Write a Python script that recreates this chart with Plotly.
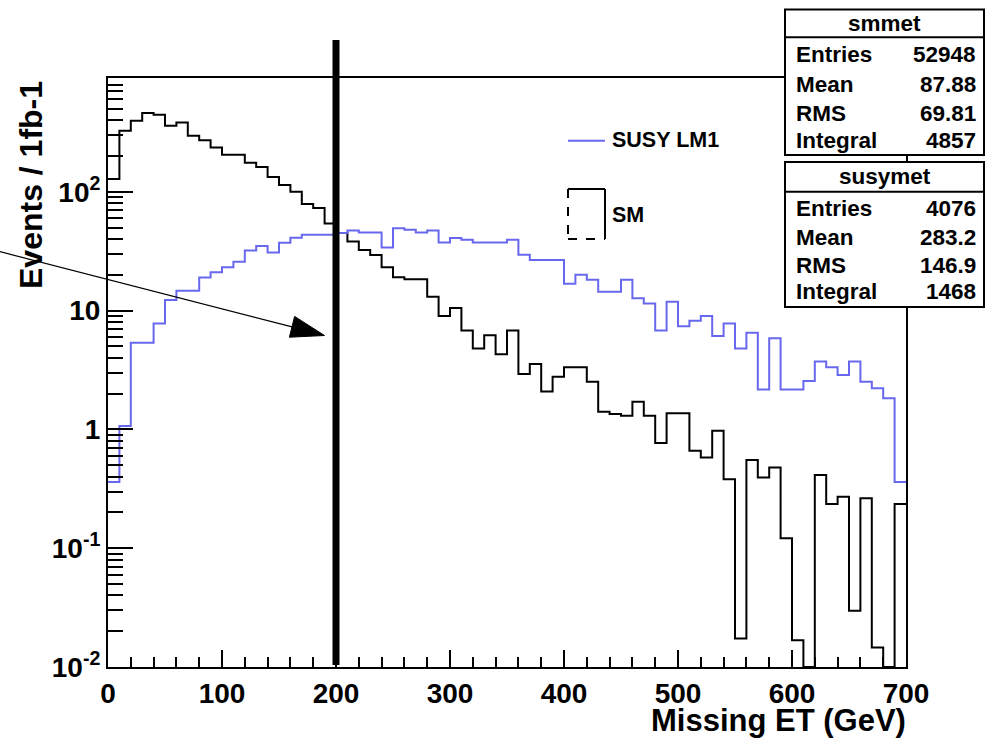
import numpy as np
import plotly.graph_objects as go

# ---------------- data ----------------
bin_width = 10
x_min, x_max = 0, 700

# SM (black) events per 10 GeV bin, 0..700 GeV
sm_met = [128, 326, 397, 460, 445, 360, 383, 296, 271, 236,
          205, 205, 176, 162, 133, 114, 100, 79, 73, 54,
          45, 38.1, 32.4, 29.4, 23.2, 19.1, 18.4, 18.4, 13.1, 9.0,
          10.5, 6.8, 4.8, 6.2, 4.3, 6.8, 2.93, 3.56, 2.08, 2.78,
          3.34, 3.34, 2.52, 1.41, 1.35, 1.30, 1.71, 1.30, 0.77, 1.37,
          1.37, 0.66, 0.58, 0.975, 0.38, 0.0174, 0.552, 0.394, 0.479, 0.121,
          0.0168, 0, 0.413, 0.235, 0.271, 0.0297, 0.263, 0.0146, 0, 0.235]

# SUSY LM1 (blue) events per 10 GeV bin
susy_met = [0.36, 1.07, 5.37, 5.37, 7.8, 12.3, 14.7, 14.7, 19, 21,
            23.2, 25.8, 32, 35, 30.8, 37.3, 41, 43.5, 43.5, 43.5,
            45, 47.2, 45.4, 45.4, 34, 49.4, 47.9, 45.4, 47.2, 37.4,
            40.8, 39.5, 37.4, 37.4, 37.4, 39.5, 29.5, 26.7, 26.7, 26.7,
            16.8, 20, 18.2, 14.4, 14.4, 18.2, 12.7, 11.5, 6.8, 11.9,
            7.4, 8.2, 9.0, 6.1, 7.8, 4.8, 6.5, 2.17, 5.85, 2.17,
            2.17, 2.56, 3.72, 3.33, 2.87, 3.72, 2.52, 2.22, 1.83, 0.36]

cut_value = 200  # GeV, vertical cut line

stat_labels = ["Entries", "Mean", "RMS", "Integral"]
sm_title = "smmet"
sm_stats = ["52948", "87.88", "69.81", "4857"]
susy_title = "susymet"
susy_stats = ["4076", "283.2", "146.9", "1468"]

x_tickvals = [0, 100, 200, 300, 400, 500, 600, 700]
y_tickvals = [0.01, 0.1, 1, 10, 100]
y_ticktext = ["10<sup>-2</sup>", "10<sup>-1</sup>", "1", "10", "10<sup>2</sup>"]
y_min_exp, y_max_exp = -2, 2.958

# ---------------- layout geometry ----------------
W, H = 987, 741
L, R, T, B = 108, 81, 78, 74
PW, PH = W - L - R, H - T - B


def X(px):
    return (px - L) / PW


def Y(py):
    return (H - B - py) / PH


FONT = "Liberation Sans, Arial, Helvetica, sans-serif"
BLUE = "#6868EE"

edges = np.arange(x_min, x_max + bin_width, bin_width)
floor = 10 ** y_min_exp


def step_y(vals):
    v = np.maximum(np.asarray(vals, dtype=float), floor)
    return np.append(v, v[-1])


fig = go.Figure()
fig.add_trace(go.Scatter(x=edges, y=step_y(sm_met), mode="lines", line_shape="hv",
                         line=dict(color="black", width=2), showlegend=False, hoverinfo="skip"))
fig.add_trace(go.Scatter(x=edges, y=step_y(susy_met), mode="lines", line_shape="hv",
                         line=dict(color=BLUE, width=2), showlegend=False, hoverinfo="skip"))

shapes = []
annotations = []

# thick cut line
shapes.append(dict(type="line", xref="x", yref="paper", x0=cut_value, x1=cut_value,
                   y0=Y(665), y1=Y(40), line=dict(color="black", width=7), layer="above"))

# arrow
shapes.append(dict(type="line", xref="paper", yref="paper", x0=X(0), y0=Y(251.7),
                   x1=X(294), y1=Y(327.3), line=dict(color="black", width=1.2), layer="above"))
tri = "M {} {} L {} {} L {} {} Z".format(X(324.5), Y(335.5), X(294.6), Y(316.4), X(289.4), Y(337.2))
shapes.append(dict(type="path", xref="paper", yref="paper", path=tri,
                   fillcolor="black", line=dict(color="black", width=1), layer="above"))

# legend
shapes.append(dict(type="line", xref="paper", yref="paper", x0=X(568), x1=X(605),
                   y0=Y(140.7), y1=Y(140.7), line=dict(color=BLUE, width=2), layer="above"))
annotations.append(dict(text="<b>SUSY LM1</b>", xref="paper", yref="paper", x=X(610), y=Y(140),
                        xanchor="left", yanchor="middle", showarrow=False,
                        font=dict(family=FONT, size=21.5, color="black")))
bx0, bx1, by0, by1 = 568, 605, 189, 239
shapes.append(dict(type="line", xref="paper", yref="paper", x0=X(bx0), x1=X(bx1), y0=Y(by0), y1=Y(by0),
                   line=dict(color="black", width=2), layer="above"))
shapes.append(dict(type="line", xref="paper", yref="paper", x0=X(bx1), x1=X(bx1), y0=Y(by0), y1=Y(by1),
                   line=dict(color="black", width=2), layer="above"))
shapes.append(dict(type="line", xref="paper", yref="paper", x0=X(bx0), x1=X(bx0), y0=Y(by0), y1=Y(by1),
                   line=dict(color="black", width=2, dash="dash"), layer="above"))
shapes.append(dict(type="line", xref="paper", yref="paper", x0=X(bx0), x1=X(bx1), y0=Y(by1), y1=Y(by1),
                   line=dict(color="black", width=2, dash="dash"), layer="above"))
annotations.append(dict(text="<b>SM</b>", xref="paper", yref="paper", x=X(610), y=Y(215),
                        xanchor="left", yanchor="middle", showarrow=False,
                        font=dict(family=FONT, size=21.5, color="black")))


# stats boxes
def stat_box(top, bottom, sep, title_y, row_ys, title, values):
    shapes.append(dict(type="rect", xref="paper", yref="paper", x0=X(785), x1=X(984),
                       y0=Y(bottom), y1=Y(top), fillcolor="white",
                       line=dict(color="black", width=2), layer="above"))
    shapes.append(dict(type="line", xref="paper", yref="paper", x0=X(785), x1=X(984),
                       y0=Y(sep), y1=Y(sep), line=dict(color="black", width=2), layer="above"))
    annotations.append(dict(text="<b>" + title + "</b>", xref="paper", yref="paper", x=X(884.5), y=Y(title_y),
                            xanchor="center", yanchor="middle", showarrow=False,
                            font=dict(family=FONT, size=22.5, color="black")))
    for lab, val, yy in zip(stat_labels, values, row_ys):
        annotations.append(dict(text="<b>" + lab + "</b>", xref="paper", yref="paper", x=X(794), y=Y(yy),
                                xanchor="left", yanchor="middle", showarrow=False,
                                font=dict(family=FONT, size=22.5, color="black")))
        annotations.append(dict(text="<b>" + val + "</b>", xref="paper", yref="paper", x=X(978), y=Y(yy),
                                xanchor="right", yanchor="middle", showarrow=False,
                                font=dict(family=FONT, size=22.5, color="black")))


stat_box(9.5, 155, 37.3, 23.5, [55, 84.5, 113.3, 140], sm_title, sm_stats)
stat_box(162, 307, 191.7, 176.5, [208.5, 237, 265.5, 291], susy_title, susy_stats)

# axis titles
annotations.append(dict(text="<b>Missing ET (GeV)</b>", xref="paper", yref="paper", x=X(908), y=Y(720),
                        xanchor="right", yanchor="middle", showarrow=False,
                        font=dict(family=FONT, size=31, color="black")))
annotations.append(dict(text="<b>Events / 1fb-1</b>", xref="paper", yref="paper", x=X(31), y=Y(185),
                        xanchor="center", yanchor="middle", showarrow=False, textangle=-90,
                        font=dict(family=FONT, size=32, color="black")))

minor_y = [m * 10 ** e for e in range(-2, 3) for m in range(2, 10) if m * 10 ** e < 10 ** y_max_exp]

tick_font = dict(family=FONT, size=28, color="black", weight="bold")

fig.update_layout(
    width=W, height=H,
    margin=dict(l=L, r=R, t=T, b=B, autoexpand=False),
    paper_bgcolor="white", plot_bgcolor="white",
    showlegend=False,
    shapes=shapes, annotations=annotations,
    font=dict(family=FONT, color="black"),
    xaxis=dict(range=[x_min, x_max], tickvals=x_tickvals, ticks="inside", ticklen=17,
               tickwidth=1.5, tickcolor="black", showgrid=False, zeroline=False,
               showline=True, linecolor="black", linewidth=2, mirror=True,
               tickfont=tick_font,
               minor=dict(dtick=20, ticks="inside", ticklen=10, tickwidth=1.5,
                          tickcolor="black", showgrid=False),
               automargin=False),
    yaxis=dict(type="log", range=[y_min_exp, y_max_exp], tickvals=y_tickvals, ticktext=y_ticktext,
               ticks="inside", ticklen=25, tickwidth=1.5, tickcolor="black", showgrid=False,
               zeroline=False, showline=True, linecolor="black", linewidth=2, mirror=True,
               tickfont=tick_font,
               minor=dict(tickvals=minor_y, ticks="inside", ticklen=15, tickwidth=1.5,
                          tickcolor="black", showgrid=False),
               automargin=False),
)

fig.write_html("out.html")
